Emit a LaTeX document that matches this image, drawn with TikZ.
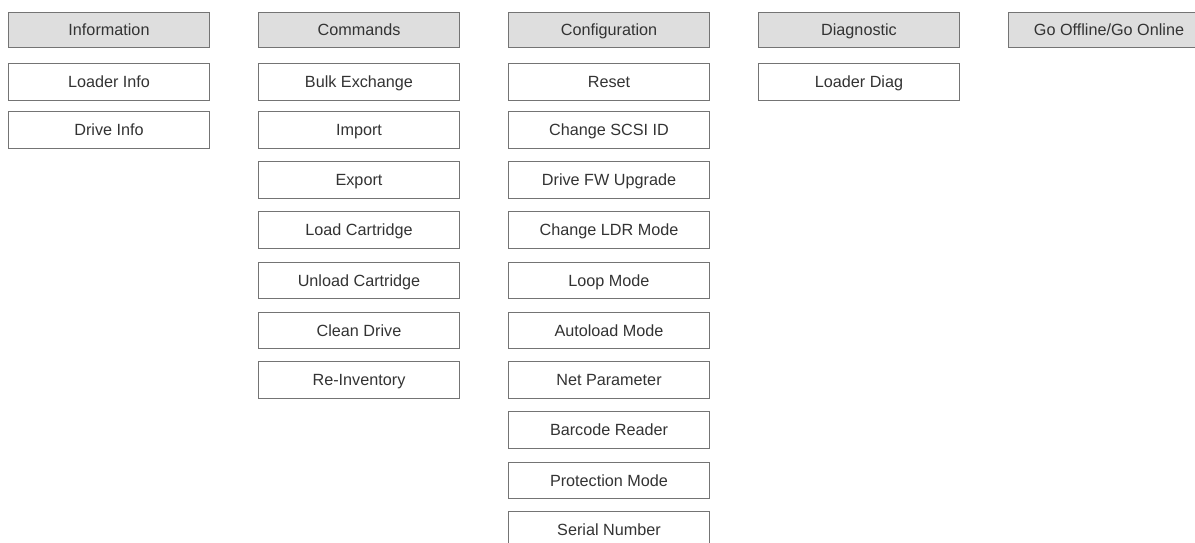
\documentclass[tikz,border=0pt]{standalone}
\usepackage{fontspec}
\setmainfont{Liberation Sans}
\definecolor{headfill}{HTML}{DEDEDE}
\definecolor{boxline}{HTML}{747474}
\definecolor{ink}{HTML}{333333}
\tikzset{
  menubox/.style={draw=boxline, line width=1pt, minimum width=201pt,
    inner sep=0pt, text height=11.6pt, text depth=0pt,
    anchor=north west, text=ink, font=\fontsize{16.2}{19}\selectfont},
  headbox/.style={menubox, fill=headfill, minimum height=35pt},
  itembox/.style={menubox, fill=white, minimum height=36.5pt}
}
\begin{document}
\begin{tikzpicture}[x=1pt,y=-1pt]
\useasboundingbox (0,0) rectangle (1195,542);
\clip (0,0) rectangle (1195,542);
% menu headers
\node[headbox] (info)   at (8,12)    {Information};
\node[headbox] (cmd)    at (258,12)  {Commands};
\node[headbox] (conf)   at (508,12)  {Configuration};
\node[headbox] (diag)   at (758,12)  {Diagnostic};
\node[headbox] (online) at (1008,12) {Go Offline/Go Online};
% Information entries
\node[itembox] (loaderinfo) at (8,63)  {Loader Info};
\node[itembox] (driveinfo)  at (8,111) {Drive Info};
% Commands entries
\node[itembox] (bulk)     at (258,63)  {Bulk Exchange};
\node[itembox] (import)   at (258,111) {Import};
\node[itembox] (export)   at (258,161) {Export};
\node[itembox] (load)     at (258,211) {Load Cartridge};
\node[itembox] (unload)   at (258,261.5) {Unload Cartridge};
\node[itembox] (clean)    at (258,311.5) {Clean Drive};
\node[itembox] (reinv)    at (258,361) {Re-Inventory};
% Configuration entries
\node[itembox] (reset)    at (508,63)  {Reset};
\node[itembox] (scsi)     at (508,111) {Change SCSI ID};
\node[itembox] (fw)       at (508,161) {Drive FW Upgrade};
\node[itembox] (ldr)      at (508,211) {Change LDR Mode};
\node[itembox] (loop)     at (508,261.5) {Loop Mode};
\node[itembox] (autoload) at (508,311.5) {Autoload Mode};
\node[itembox] (net)      at (508,361) {Net Parameter};
\node[itembox] (barcode)  at (508,411) {Barcode Reader};
\node[itembox] (protect)  at (508,461.5) {Protection Mode};
\node[itembox] (serial)   at (508,511) {Serial Number};
% Diagnostic entries
\node[itembox] (loaderdiag) at (758,63) {Loader Diag};
\end{tikzpicture}
\end{document}
